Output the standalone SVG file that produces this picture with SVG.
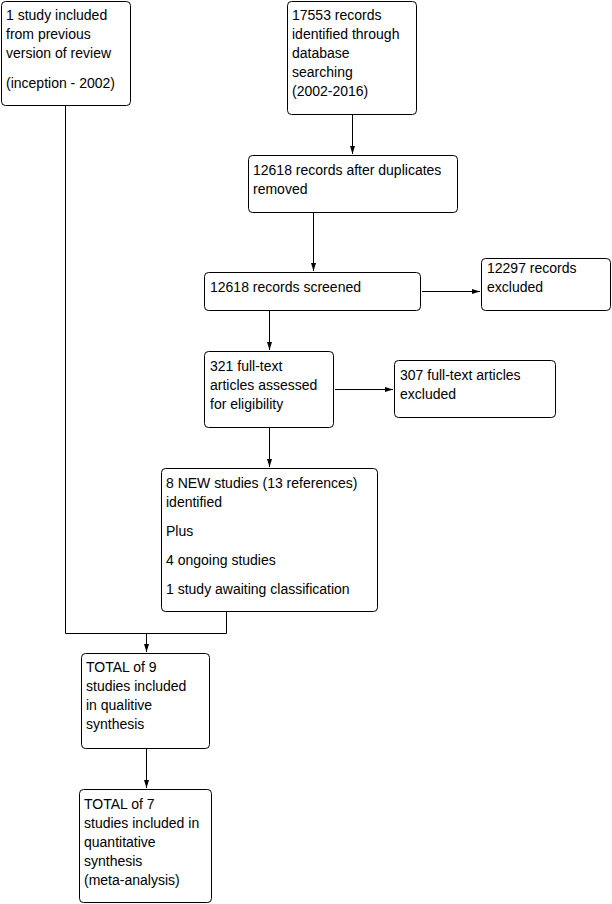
<svg xmlns="http://www.w3.org/2000/svg" width="612" height="904" viewBox="0 0 612 904">
<style>
.box{fill:#fff;stroke:#000;stroke-width:1}
.t{font-family:"Liberation Sans",Arial,sans-serif;font-size:14px;fill:#000}
.c{fill:none;stroke:#000;stroke-width:1}
</style>
<defs>
<marker id="ah" markerWidth="8" markerHeight="6" refX="8" refY="3" orient="auto" markerUnits="userSpaceOnUse">
<path d="M0,0.5 L8,3 L0,5.5 Z" fill="#000"/>
</marker>
</defs>
<rect width="612" height="904" fill="#fff"/>
<g id="connectors">
<path class="c" d="M352.5,114 V154" marker-end="url(#ah)"/>
<path class="c" d="M313.5,212 V271" marker-end="url(#ah)"/>
<path class="c" d="M422,291.5 H480" marker-end="url(#ah)"/>
<path class="c" d="M269.5,310 V350" marker-end="url(#ah)"/>
<path class="c" d="M335,389.5 H393" marker-end="url(#ah)"/>
<path class="c" d="M269.5,427 V467" marker-end="url(#ah)"/>
<path class="c" d="M65.5,105 V633.5 H226.5 V611"/>
<path class="c" d="M146.5,633.5 V652" marker-end="url(#ah)"/>
<path class="c" d="M146.5,748 V788" marker-end="url(#ah)"/>
</g>
<g id="n1">
<rect class="box" x="1.5" y="1.5" width="129" height="104" rx="4"/>
<text class="t" x="6" y="20">1 study included</text>
<text class="t" x="6" y="39">from previous</text>
<text class="t" x="6" y="58">version of review</text>
<text class="t" x="6" y="88">(inception - 2002)</text>
</g>
<g id="n2">
<rect class="box" x="287.5" y="1.5" width="129" height="113" rx="4"/>
<text class="t" x="292" y="20">17553 records</text>
<text class="t" x="292" y="39">identified through</text>
<text class="t" x="292" y="58">database</text>
<text class="t" x="292" y="77">searching</text>
<text class="t" x="292" y="96">(2002-2016)</text>
</g>
<g id="n3">
<rect class="box" x="248.5" y="155.5" width="209" height="57" rx="4"/>
<text class="t" x="253" y="175">12618 records after duplicates</text>
<text class="t" x="253" y="194">removed</text>
</g>
<g id="n4">
<rect class="box" x="204.5" y="272.5" width="216" height="38" rx="4"/>
<text class="t" x="210" y="292">12618 records screened</text>
</g>
<g id="n5">
<rect class="box" x="481.5" y="258.5" width="129" height="52" rx="4"/>
<text class="t" x="487" y="273">12297 records</text>
<text class="t" x="487" y="292">excluded</text>
</g>
<g id="n6">
<rect class="box" x="204.5" y="351.5" width="129" height="76" rx="4"/>
<text class="t" x="210" y="371">321 full-text</text>
<text class="t" x="210" y="390">articles assessed</text>
<text class="t" x="210" y="409">for eligibility</text>
</g>
<g id="n7">
<rect class="box" x="394.5" y="360.5" width="161" height="57" rx="4"/>
<text class="t" x="400" y="380">307 full-text articles</text>
<text class="t" x="400" y="399">excluded</text>
</g>
<g id="n8">
<rect class="box" x="161.5" y="468.5" width="216" height="143" rx="4"/>
<text class="t" x="166" y="488">8 NEW studies (13 references)</text>
<text class="t" x="166" y="507">identified</text>
<text class="t" x="166" y="536">Plus</text>
<text class="t" x="166" y="565">4 ongoing studies</text>
<text class="t" x="166" y="594">1 study awaiting classification</text>
</g>
<g id="n9">
<rect class="box" x="81.5" y="653.5" width="128" height="95" rx="4"/>
<text class="t" x="86" y="672">TOTAL of 9</text>
<text class="t" x="86" y="691">studies included</text>
<text class="t" x="86" y="710">in qualitive</text>
<text class="t" x="86" y="729">synthesis</text>
</g>
<g id="n10">
<rect class="box" x="79.5" y="789.5" width="132" height="113" rx="4"/>
<text class="t" x="84" y="809">TOTAL of 7</text>
<text class="t" x="84" y="828">studies included in</text>
<text class="t" x="84" y="847">quantitative</text>
<text class="t" x="84" y="866">synthesis</text>
<text class="t" x="84" y="885">(meta-analysis)</text>
</g>
</svg>
